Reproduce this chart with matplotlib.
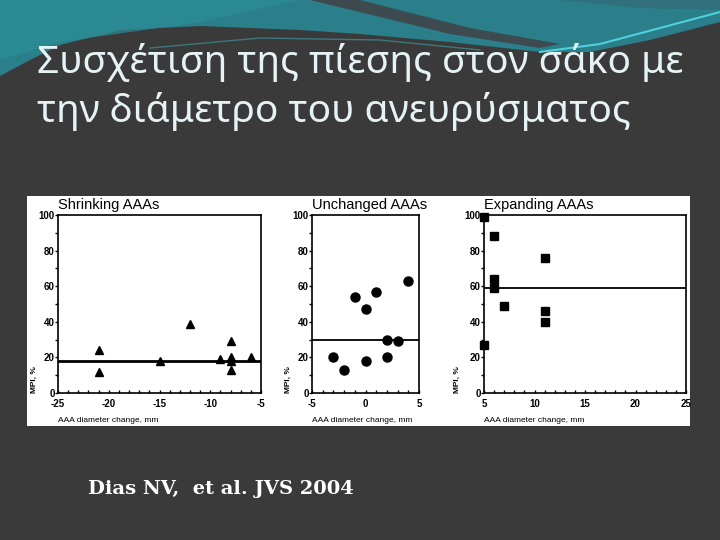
import numpy as np
import matplotlib.pyplot as plt
from matplotlib.patches import Polygon, Rectangle

plt.rcParams["axes.unicode_minus"] = False

# DATA
shrink_x = [-21, -21, -15, -12, -9, -8, -8, -8, -8, -6]
shrink_y = [24, 12, 18, 39, 19, 29, 20, 18, 13, 20]
shrink_mean = 18

unch_x = [-3, -2, -1, 0, 0, 1, 2, 2, 3, 4]
unch_y = [20, 13, 54, 47, 18, 57, 30, 20, 29, 63]
unch_mean = 29.5

exp_x = [5, 6, 11, 6, 6, 7, 11, 11, 5]
exp_y = [99, 88, 76, 64, 59, 49, 46, 40, 27]
exp_mean = 59

panel_titles = ["Shrinking AAAs", "Unchanged AAAs", "Expanding AAAs"]
x_ticks = [[-25, -20, -15, -10, -5], [-5, 0, 5], [5, 10, 15, 20, 25]]
y_ticks = [0, 20, 40, 60, 80, 100]

title_lines = ["Συσχέτιση της πίεσης στον σάκο με",
               "την διάμετρο του ανευρύσματος"]
citation = "Dias NV,  et al. JVS 2004"

W, H = 720, 540


def px_box(l, t, r, b):
    return [l / W, 1 - b / H, (r - l) / W, (b - t) / H]


fig = plt.figure(figsize=(7.2, 5.4), dpi=100)
fig.patch.set_facecolor("#3a3a3a")

# SLIDE BACKGROUND
bg = fig.add_axes([0, 0, 1, 1], zorder=-1)
bg.set_xlim(0, W)
bg.set_ylim(H, 0)
bg.axis("off")

teal = [(0, 0), (720, 0), (720, 22), (650, 40), (590, 52), (540, 52),
        (450, 42), (360, 34), (300, 30), (200, 26), (120, 30), (60, 45),
        (30, 60), (0, 76)]
bg.add_patch(Polygon(teal, closed=True, color="#2a7f8a", lw=0))
bg.add_patch(Polygon([(0, 0), (300, 0), (200, 22), (60, 42), (0, 60)],
                     closed=True, color="#2b8e98", lw=0, alpha=0.7))
bg.add_patch(Polygon([(310, 0), (360, 0), (470, 28), (560, 44), (540, 48),
                      (450, 34)], closed=True, color="#3d4a4f", lw=0))
bg.add_patch(Polygon([(560, 0), (720, 0), (720, 10), (640, 8)],
                     closed=True, color="#316f7c", lw=0))
bg.plot([540, 600, 660, 720], [52, 44, 28, 12], color="#4fd0dc", lw=1.5)
bg.plot([150, 260, 380, 480], [48, 38, 40, 50], color="#3fa2ac", lw=1.0,
        alpha=0.6)
bg.add_patch(Rectangle((27, 196), 663, 230, color="white", lw=0))

# SLIDE TITLE
fig.text(37 / W, 1 - 73 / H, title_lines[0], color="#e6f3f6",
         family="Noto Sans", fontsize=28, va="baseline")
fig.text(37 / W, 1 - 122 / H, title_lines[1], color="#e6f3f6",
         family="Noto Sans", fontsize=28, va="baseline")

fig.text(88 / W, 1 - 494 / H, citation, color="white",
         family="DejaVu Serif", fontweight="bold", fontsize=14,
         va="baseline")

# THREE PANELS
boxes = [(58, 215, 261, 393), (312, 215, 419, 393), (484, 215, 686, 393)]
xlims = [(-25, -5), (-5, 5), (5, 25)]
ylab_x = [34, 288, 457]
series = [(shrink_x, shrink_y, shrink_mean, "^", 2.0),
          (unch_x, unch_y, unch_mean, "o", 1.3),
          (exp_x, exp_y, exp_mean, "s", 1.3)]

for i in range(3):
    l, t, r, b = boxes[i]
    ax = fig.add_axes(px_box(l, t, r, b))
    xs, ys, mean, mk, lw = series[i]
    ax.axhline(mean, color="black", lw=lw)
    ax.plot(xs, ys, ls="none", marker=mk, ms=6.5 if mk == "o" else 6,
            color="black", clip_on=False)
    ax.set_xlim(*xlims[i])
    ax.set_ylim(0, 100)
    ax.set_xticks(x_ticks[i])
    ax.set_xticks(np.arange(xlims[i][0], xlims[i][1] + 1, 1), minor=True)
    ax.set_yticks(y_ticks)
    ax.set_yticks(np.arange(0, 101, 10), minor=True)
    for s in ax.spines.values():
        s.set_linewidth(1.2)
    ax.tick_params(axis="y", which="both", direction="out", length=2,
                   width=1, pad=0.5, labelsize=7)
    ax.tick_params(axis="x", which="both", direction="in", length=2,
                   width=1, pad=4, labelsize=7)
    for lab in ax.get_xticklabels() + ax.get_yticklabels():
        lab.set_fontweight("bold")
        lab.set_family("Liberation Sans")
    ax.set_facecolor("white")
    fig.text(l / W, 1 - 205 / H, panel_titles[i], family="Liberation Sans",
             fontsize=10.5, va="center", ha="left")
    fig.text(l / W, 1 - 420 / H, "AAA diameter change, mm",
             family="Liberation Sans", fontsize=6, va="center", ha="left")
    fig.text(ylab_x[i] / W, 1 - 393 / H, "MPI, %", family="Liberation Sans",
             fontsize=6, fontweight="bold", rotation=90, va="bottom",
             ha="center")

fig.savefig("out.png", dpi=100, facecolor=fig.get_facecolor())
